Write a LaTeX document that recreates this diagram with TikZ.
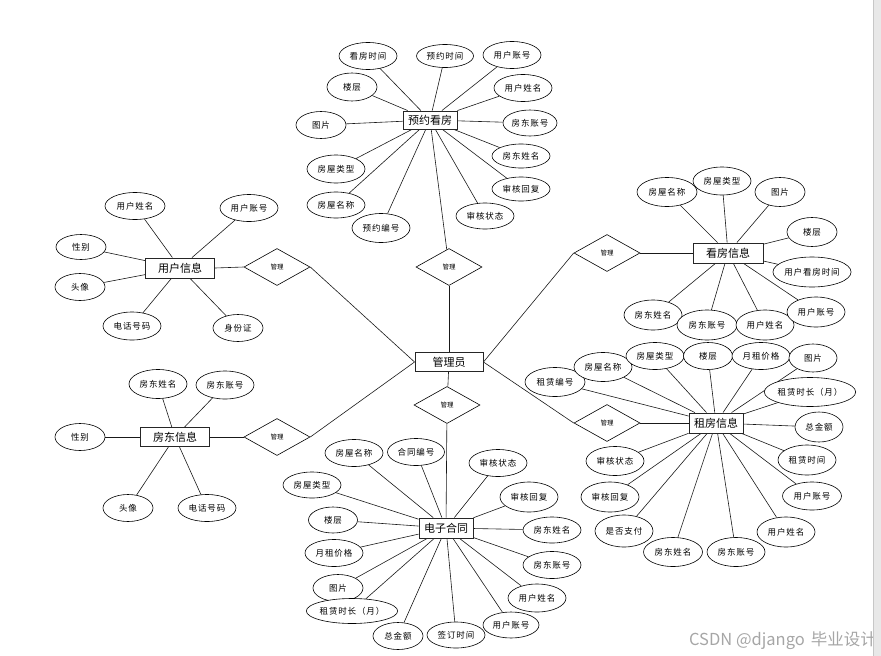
\documentclass[tikz,border=0pt]{standalone}
\usepackage{fontspec}
\setmainfont{Noto Sans CJK SC}
\newfontfamily\attrfont[LetterSpace=10]{Noto Sans CJK SC}
\usetikzlibrary{shapes.geometric, backgrounds}

\begin{document}
\begin{tikzpicture}[x=1pt, y=-1pt,
    ent/.style={draw=black!85, line width=0.9pt, fill=white, minimum width=54pt, minimum height=19pt, inner sep=1pt, font=\fontsize{11}{12}\selectfont},
    attr/.style={ellipse, draw, line width=0.6pt, fill=white, minimum width=58pt, minimum height=27pt, inner sep=0pt, font=\attrfont\fontsize{8.5}{10}\selectfont},
    sattr/.style={attr, minimum width=50pt},
    rel/.style={diamond, draw, line width=0.6pt, fill=white, minimum width=66pt, minimum height=37pt, inner sep=0pt, font=\fontsize{6.5}{7}\selectfont},
    conn/.style={draw=black!90, line width=0.6pt}]
    \useasboundingbox (0,0) rectangle (881,656);

    % 实体
    \node[ent, minimum width=68pt] (admin) at (449,362) {管理员};
    \node[ent, minimum height=18pt] (yy) at (430,120) {预约看房};
    \node[ent, minimum width=69pt, minimum height=20pt] (yh) at (180,268) {用户信息};
    \node[ent, minimum width=69pt] (fd) at (175,437) {房东信息};
    \node[ent, minimum width=70pt, minimum height=20pt] (kf) at (728,253) {看房信息};
    \node[ent, minimum height=20pt] (zf) at (716,423) {租房信息};
    \node[ent, minimum height=20pt] (ht) at (446,528) {电子合同};

    % 关系
    \node[rel] (m1) at (449,267) {管理};
    \node[rel] (m2) at (447,405) {管理};
    \node[rel] (m3) at (277,267) {管理};
    \node[rel] (m4) at (277,437) {管理};
    \node[rel] (m5) at (607,253) {管理};
    \node[rel] (m6) at (607,423) {管理};

    % 预约看房 属性
    \node[attr] (yy1) at (368,56) {看房时间};
    \node[attr, minimum width=57pt, minimum height=23pt] (yy2) at (445,56) {预约时间};
    \node[attr] (yy3) at (512,55) {用户账号};
    \node[sattr, minimum height=28pt] (yy4) at (352,87) {楼层};
    \node[attr] (yy5) at (523,88) {用户姓名};
    \node[sattr] (yy6) at (321,125) {图片};
    \node[attr, minimum width=54pt, minimum height=26pt] (yy7) at (530,123) {房东账号};
    \node[attr, minimum height=24pt] (yy8) at (521,156) {房东姓名};
    \node[attr, minimum height=28pt] (yy9) at (336,169) {房屋类型};
    \node[attr, minimum height=24pt] (yy10) at (521,189) {审核回复};
    \node[attr, minimum height=26pt] (yy11) at (336,205) {房屋名称};
    \node[attr, minimum height=26pt] (yy12) at (485,216) {审核状态};
    \node[attr, minimum height=29pt] (yy13) at (381,228) {预约编号};

    % 用户信息 属性
    \node[attr, minimum width=60pt] (yh1) at (135,206) {用户姓名};
    \node[attr] (yh2) at (249,208) {用户账号};
    \node[sattr, minimum height=25pt] (yh3) at (81,247) {性别};
    \node[sattr] (yh4) at (80,287) {头像};
    \node[attr, minimum height=28pt] (yh5) at (132,326) {电话号码};
    \node[sattr] (yh6) at (238,328) {身份证};

    % 房东信息 属性
    \node[attr, minimum height=29pt] (fd1) at (158,384) {房东姓名};
    \node[attr, minimum height=28pt] (fd2) at (225,385) {房东账号};
    \node[sattr] (fd3) at (80,437) {性别};
    \node[sattr] (fd4) at (128,508) {头像};
    \node[attr] (fd5) at (207,508) {电话号码};

    % 看房信息 属性
    \node[attr, minimum width=60pt, minimum height=29pt] (kf1) at (667,192) {房屋名称};
    \node[attr, minimum height=28pt] (kf2) at (722,181) {房屋类型};
    \node[sattr, minimum height=29pt] (kf3) at (780,192) {图片};
    \node[sattr, minimum height=29pt] (kf4) at (812,232) {楼层};
    \node[attr, minimum width=78pt, minimum height=30pt] (kf5) at (812,272) {用户看房时间};
    \node[attr, minimum height=30pt] (kf6) at (653,315) {房东姓名};
    \node[attr, minimum width=60pt, minimum height=30pt] (kf7) at (707,325) {房东账号};
    \node[attr, minimum height=30pt] (kf8) at (765,325) {用户姓名};
    \node[attr, minimum height=30pt] (kf9) at (816,312) {用户账号};

    % 租房信息 属性
    \node[attr, minimum width=60pt, minimum height=29pt] (zf1) at (555,382) {租赁编号};
    \node[attr, minimum height=29pt] (zf2) at (603,367) {房屋名称};
    \node[attr] (zf3) at (655,356) {房屋类型};
    \node[sattr, minimum width=49pt] (zf4) at (708,356) {楼层};
    \node[attr] (zf5) at (761,356) {月租价格};
    \node[sattr, minimum width=48pt, minimum height=28pt] (zf6) at (813,358) {图片};
    \node[attr, minimum width=86pt, minimum height=29pt] (zf7) at (810,392) {租赁时长（月）};
    \node[sattr, minimum width=48pt, minimum height=30pt] (zf8) at (819,427) {总金额};
    \node[attr, minimum height=30pt] (zf9) at (807,460) {租赁时间};
    \node[attr, minimum width=59pt, minimum height=28pt] (zf10) at (812,496) {用户账号};
    \node[attr, minimum height=30pt] (zf11) at (786,532) {用户姓名};
    \node[attr, minimum height=29pt] (zf12) at (736,552) {房东账号};
    \node[attr, minimum width=59pt, minimum height=29pt] (zf13) at (673,552) {房东姓名};
    \node[attr, minimum height=32pt] (zf14) at (624,531) {是否支付};
    \node[attr, minimum height=30pt] (zf15) at (610,497) {审核回复};
    \node[attr, minimum height=29pt] (zf16) at (615,461) {审核状态};

    % 电子合同 属性
    \node[attr] (ht1) at (354,453) {房屋名称};
    \node[attr, minimum width=57pt] (ht2) at (416,452) {合同编号};
    \node[attr] (ht3) at (498,463) {审核状态};
    \node[attr, minimum height=26pt] (ht4) at (312,485) {房屋类型};
    \node[attr, minimum height=30pt] (ht5) at (529,497) {审核回复};
    \node[sattr, minimum width=49pt, minimum height=26pt] (ht6) at (333,520) {楼层};
    \node[attr, minimum height=26pt] (ht7) at (552,530) {房东姓名};
    \node[attr] (ht8) at (334,553) {月租价格};
    \node[attr] (ht9) at (552,565) {房东账号};
    \node[sattr] (ht10) at (338,588) {图片};
    \node[attr, minimum height=28pt] (ht11) at (537,598) {用户姓名};
    \node[attr, minimum width=89pt, minimum height=25pt] (ht12) at (352,611) {租赁时长（月）};
    \node[attr, minimum width=56pt, minimum height=26pt] (ht13) at (511,625) {用户账号};
    \node[sattr] (ht14) at (398,636) {总金额};
    \node[attr, minimum height=26pt] (ht15) at (456,635) {签订时间};

    % 连线
    \begin{scope}[on background layer]
        \draw[conn] (admin) -- (m1);
        \draw[conn] (m1) -- (yy);
        \draw[conn] (admin) -- (m2);
        \draw[conn] (m2) -- (ht);
        \draw[conn] (m3.east) -- (admin.west);
        \draw[conn] (m4.east) -- (admin.west);
        \draw[conn] (m5.west) -- (admin.east);
        \draw[conn] (m6.west) -- (admin.east);
        \draw[conn] (m3.west) -- (yh.east);
        \draw[conn] (m4.west) -- (fd.east);
        \draw[conn] (m5.east) -- (kf.west);
        \draw[conn] (m6.east) -- (zf.west);
        \foreach \i in {1,...,13} \draw[conn] (yy) -- (yy\i);
        \foreach \i in {1,...,6} \draw[conn] (yh) -- (yh\i);
        \foreach \i in {1,...,5} \draw[conn] (fd) -- (fd\i);
        \foreach \i in {1,...,9} \draw[conn] (kf) -- (kf\i);
        \foreach \i in {1,...,16} \draw[conn] (zf) -- (zf\i);
        \foreach \i in {1,...,15} \draw[conn] (ht) -- (ht\i);
    \end{scope}

    % 水印
    \node[text=black!35, font=\fontsize{16.5}{18}\selectfont, anchor=east, inner sep=0pt] (mark) at (877,641) {CSDN @django\hspace{6pt}毕业设计};
    \fill[black!9] (873,0) rectangle (881,656);
    \draw[black!22, line width=0.8pt] (873,0) -- (873,656);
\end{tikzpicture}
\end{document}
